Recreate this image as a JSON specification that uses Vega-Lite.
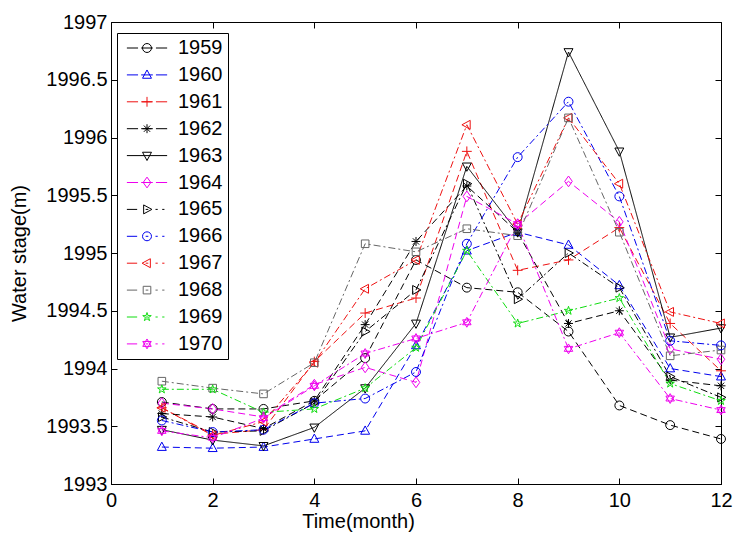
{
"$schema": "https://vega.github.io/schema/vega-lite/v6.json",
"width": 610, "height": 462,
"autosize": "none",
"padding": {"left": 111, "top": 22, "right": 14, "bottom": 54},
"background": "white",
"config": {
  "view": {"stroke": "black", "strokeWidth": 1},
  "font": "Liberation Sans",
  "axis": {"grid": false, "domainColor": "black", "tickColor": "black", "labelColor": "black", "titleColor": "black", "labelFont": "Liberation Sans", "titleFont": "Liberation Sans", "labelFontSize": 20, "titleFontSize": 20, "titleFontWeight": "normal", "tickSize": -6, "labelFlush": false, "labelOverlap": false, "labelBound": false},
  "legend": {"orient": "none", "legendX": 6, "legendY": 11, "direction": "vertical", "padding": 5, "strokeColor": "black", "fillColor": "white", "labelFontSize": 20, "labelFont": "Liberation Sans", "labelColor": "black", "symbolSize": 80, "symbolStrokeWidth": 1, "symbolOpacity": 1, "symbolDash": [], "symbolOffset": 15, "labelOffset": 21, "rowPadding": 6.9, "cornerRadius": 0}
},
"data": {"values": [
{"year":"1959","month":1,"stage":1993.71},{"year":"1959","month":2,"stage":1993.65},{"year":"1959","month":3,"stage":1993.65},{"year":"1959","month":4,"stage":1993.72},{"year":"1959","month":5,"stage":1994.09},{"year":"1959","month":6,"stage":1994.94},{"year":"1959","month":7,"stage":1994.70},{"year":"1959","month":8,"stage":1994.66},{"year":"1959","month":9,"stage":1994.32},{"year":"1959","month":10,"stage":1993.68},{"year":"1959","month":11,"stage":1993.51},{"year":"1959","month":12,"stage":1993.39},
{"year":"1960","month":1,"stage":1993.32},{"year":"1960","month":2,"stage":1993.31},{"year":"1960","month":3,"stage":1993.32},{"year":"1960","month":4,"stage":1993.39},{"year":"1960","month":5,"stage":1993.46},{"year":"1960","month":6,"stage":1994.20},{"year":"1960","month":7,"stage":1995.02},{"year":"1960","month":8,"stage":1995.18},{"year":"1960","month":9,"stage":1995.07},{"year":"1960","month":10,"stage":1994.72},{"year":"1960","month":11,"stage":1994.00},{"year":"1960","month":12,"stage":1993.93},
{"year":"1961","month":1,"stage":1993.66},{"year":"1961","month":2,"stage":1993.43},{"year":"1961","month":3,"stage":1993.47},{"year":"1961","month":4,"stage":1994.06},{"year":"1961","month":5,"stage":1994.48},{"year":"1961","month":6,"stage":1994.61},{"year":"1961","month":7,"stage":1995.88},{"year":"1961","month":8,"stage":1994.85},{"year":"1961","month":9,"stage":1994.94},{"year":"1961","month":10,"stage":1995.22},{"year":"1961","month":11,"stage":1994.39},{"year":"1961","month":12,"stage":1993.98},
{"year":"1962","month":1,"stage":1993.61},{"year":"1962","month":2,"stage":1993.58},{"year":"1962","month":3,"stage":1993.48},{"year":"1962","month":4,"stage":1993.72},{"year":"1962","month":5,"stage":1994.38},{"year":"1962","month":6,"stage":1995.10},{"year":"1962","month":7,"stage":1995.58},{"year":"1962","month":8,"stage":1995.18},{"year":"1962","month":9,"stage":1994.39},{"year":"1962","month":10,"stage":1994.50},{"year":"1962","month":11,"stage":1993.90},{"year":"1962","month":12,"stage":1993.85},
{"year":"1963","month":1,"stage":1993.47},{"year":"1963","month":2,"stage":1993.38},{"year":"1963","month":3,"stage":1993.33},{"year":"1963","month":4,"stage":1993.49},{"year":"1963","month":5,"stage":1993.83},{"year":"1963","month":6,"stage":1994.39},{"year":"1963","month":7,"stage":1995.75},{"year":"1963","month":8,"stage":1995.18},{"year":"1963","month":9,"stage":1996.74},{"year":"1963","month":10,"stage":1995.88},{"year":"1963","month":11,"stage":1994.27},{"year":"1963","month":12,"stage":1994.35},
{"year":"1964","month":1,"stage":1993.70},{"year":"1964","month":2,"stage":1993.65},{"year":"1964","month":3,"stage":1993.58},{"year":"1964","month":4,"stage":1993.86},{"year":"1964","month":5,"stage":1994.01},{"year":"1964","month":6,"stage":1993.88},{"year":"1964","month":7,"stage":1995.49},{"year":"1964","month":8,"stage":1995.25},{"year":"1964","month":9,"stage":1995.62},{"year":"1964","month":10,"stage":1995.27},{"year":"1964","month":11,"stage":1994.17},{"year":"1964","month":12,"stage":1994.08},
{"year":"1965","month":1,"stage":1993.58},{"year":"1965","month":2,"stage":1993.45},{"year":"1965","month":3,"stage":1993.46},{"year":"1965","month":4,"stage":1993.70},{"year":"1965","month":5,"stage":1994.32},{"year":"1965","month":6,"stage":1994.68},{"year":"1965","month":7,"stage":1995.60},{"year":"1965","month":8,"stage":1994.60},{"year":"1965","month":9,"stage":1995.00},{"year":"1965","month":10,"stage":1994.70},{"year":"1965","month":11,"stage":1993.93},{"year":"1965","month":12,"stage":1993.75},
{"year":"1966","month":1,"stage":1993.55},{"year":"1966","month":2,"stage":1993.45},{"year":"1966","month":3,"stage":1993.47},{"year":"1966","month":4,"stage":1993.70},{"year":"1966","month":5,"stage":1993.74},{"year":"1966","month":6,"stage":1993.97},{"year":"1966","month":7,"stage":1995.08},{"year":"1966","month":8,"stage":1995.83},{"year":"1966","month":9,"stage":1996.31},{"year":"1966","month":10,"stage":1995.49},{"year":"1966","month":11,"stage":1994.24},{"year":"1966","month":12,"stage":1994.20},
{"year":"1967","month":1,"stage":1993.66},{"year":"1967","month":2,"stage":1993.42},{"year":"1967","month":3,"stage":1993.54},{"year":"1967","month":4,"stage":1994.05},{"year":"1967","month":5,"stage":1994.69},{"year":"1967","month":6,"stage":1994.94},{"year":"1967","month":7,"stage":1996.11},{"year":"1967","month":8,"stage":1995.25},{"year":"1967","month":9,"stage":1996.17},{"year":"1967","month":10,"stage":1995.60},{"year":"1967","month":11,"stage":1994.49},{"year":"1967","month":12,"stage":1994.39},
{"year":"1968","month":1,"stage":1993.89},{"year":"1968","month":2,"stage":1993.83},{"year":"1968","month":3,"stage":1993.78},{"year":"1968","month":4,"stage":1994.05},{"year":"1968","month":5,"stage":1995.08},{"year":"1968","month":6,"stage":1995.01},{"year":"1968","month":7,"stage":1995.21},{"year":"1968","month":8,"stage":1995.15},{"year":"1968","month":9,"stage":1996.17},{"year":"1968","month":10,"stage":1995.18},{"year":"1968","month":11,"stage":1994.11},{"year":"1968","month":12,"stage":1994.16},
{"year":"1969","month":1,"stage":1993.82},{"year":"1969","month":2,"stage":1993.82},{"year":"1969","month":3,"stage":1993.62},{"year":"1969","month":4,"stage":1993.65},{"year":"1969","month":5,"stage":1993.83},{"year":"1969","month":6,"stage":1994.18},{"year":"1969","month":7,"stage":1995.02},{"year":"1969","month":8,"stage":1994.39},{"year":"1969","month":9,"stage":1994.50},{"year":"1969","month":10,"stage":1994.61},{"year":"1969","month":11,"stage":1993.87},{"year":"1969","month":12,"stage":1993.72},
{"year":"1970","month":1,"stage":1993.46},{"year":"1970","month":2,"stage":1993.40},{"year":"1970","month":3,"stage":1993.57},{"year":"1970","month":4,"stage":1993.85},{"year":"1970","month":5,"stage":1994.13},{"year":"1970","month":6,"stage":1994.26},{"year":"1970","month":7,"stage":1994.40},{"year":"1970","month":8,"stage":1995.25},{"year":"1970","month":9,"stage":1994.17},{"year":"1970","month":10,"stage":1994.31},{"year":"1970","month":11,"stage":1993.74},{"year":"1970","month":12,"stage":1993.64}
]},
"layer": [
{
  "mark": {"type": "line", "strokeWidth": 1},
  "encoding": {
    "x": {"field": "month", "type": "quantitative", "scale": {"domain": [0, 12], "nice": false}, "axis": {"values": [0,2,4,6,8,10,12], "title": "Time(month)", "labelPadding": 12, "titlePadding": 1, "titleX": 247}},
    "y": {"field": "stage", "type": "quantitative", "scale": {"domain": [1993, 1997], "nice": false, "zero": false}, "axis": {"values": [1993,1993.5,1994,1994.5,1995,1995.5,1996,1996.5,1997], "format": ".1~f", "title": "Water stage(m)", "labelPadding": 10, "titlePadding": 16}},
    "color": {"field": "year", "type": "nominal", "scale": {"domain": ["1959","1960","1961","1962","1963","1964","1965","1966","1967","1968","1969","1970"], "range": ["#000000","#0000ee","#ee1111","#000000","#000000","#ee00ee","#000000","#0000ee","#ee1111","#666666","#11dd11","#ee00ee"]}, "legend": null},
    "strokeDash": {"field": "year", "type": "nominal", "scale": {"domain": ["1959","1960","1961","1962","1963","1964","1965","1966","1967","1968","1969","1970"], "range": [[7,4],[7,4],[7,4],[7,4],[1,0],[7,4],[7,3,2,3],[7,3,2,3],[7,3,2,3],[7,3,2,3],[7,3,2,3],[7,3,2,3]]}, "legend": null}
  }
},
{
  "mark": {"type": "point", "filled": false, "size": 80, "strokeWidth": 1, "opacity": 1},
  "encoding": {
    "x": {"field": "month", "type": "quantitative", "axis": {"orient": "top", "values": [0,2,4,6,8,10,12], "labels": false, "title": null, "domain": false}},
    "y": {"field": "stage", "type": "quantitative", "axis": {"orient": "right", "values": [1993,1993.5,1994,1994.5,1995,1995.5,1996,1996.5,1997], "labels": false, "title": null, "domain": false}},
    "color": {"field": "year", "type": "nominal", "legend": null},
    "shape": {"field": "year", "type": "nominal", "scale": {"domain": ["1959","1960","1961","1962","1963","1964","1965","1966","1967","1968","1969","1970"], "range": [
      "M1,0A1,1,0,1,1,-1,0A1,1,0,1,1,1,0Z",
      "M0,-1.1L1,0.75L-1,0.75Z",
      "M-1.1,0H1.1M0,-1.1V1.1",
      "M-1,0H1M0,-1V1M-0.7,-0.7L0.7,0.7M-0.7,0.7L0.7,-0.7",
      "M0,1.1L1,-0.75L-1,-0.75Z",
      "M0,-1.2L0.85,0L0,1.2L-0.85,0Z",
      "M1.1,0L-0.75,-1L-0.75,1Z",
      "M1,0A1,1,0,1,1,-1,0A1,1,0,1,1,1,0Z",
      "M-1.1,0L0.75,-1L0.75,1Z",
      "M-0.85,-0.85H0.85V0.85H-0.85Z",
      "M0,-1L0.225,-0.309L0.951,-0.309L0.363,0.118L0.588,0.809L0,0.382L-0.588,0.809L-0.363,0.118L-0.951,-0.309L-0.225,-0.309Z",
      "M0,-1.1L0.95,0.55L-0.95,0.55ZM0,1.1L0.95,-0.55L-0.95,-0.55Z"
    ]}, "legend": null}
  }
},
{
  "mark": {"type": "point", "filled": false, "size": 80, "strokeWidth": 1, "opacity": 0},
  "encoding": {
    "x": {"field": "month", "type": "quantitative", "axis": null},
    "y": {"field": "stage", "type": "quantitative", "axis": null},
    "stroke": {"field": "year", "type": "nominal", "scale": {"domain": ["1959","1960","1961","1962","1963","1964","1965","1966","1967","1968","1969","1970"], "range": ["#000000","#0000ee","#ee1111","#000000","#000000","#ee00ee","#000000","#0000ee","#ee1111","#666666","#11dd11","#ee00ee"]}, "legend": {"title": null}},
    "shape": {"field": "year", "type": "nominal", "scale": {"domain": ["1959","1960","1961","1962","1963","1964","1965","1966","1967","1968","1969","1970"], "range": [
      "M-4.5,0H-2M-1.3,0H1.3M2,0H4.5M1,0A1,1,0,1,1,-1,0A1,1,0,1,1,1,0Z",
      "M-4.5,0H-2M-1.3,0H1.3M2,0H4.5M0,-1.1L1,0.75L-1,0.75Z",
      "M-4.5,0H-2M-1.3,0H1.3M2,0H4.5M-1.1,0H1.1M0,-1.1V1.1",
      "M-4.5,0H-2M-1.3,0H1.3M2,0H4.5M-1,0H1M0,-1V1M-0.7,-0.7L0.7,0.7M-0.7,0.7L0.7,-0.7",
      "M-4.5,0H4.5M0,1.1L1,-0.75L-1,-0.75Z",
      "M-4.5,0H-2M-1.3,0H1.3M2,0H4.5M0,-1.2L0.85,0L0,1.2L-0.85,0Z",
      "M-4.5,0H-2.2M-0.3,0H0.3M1.9,0H2.4M3.4,0H3.9M1.1,0L-0.75,-1L-0.75,1Z",
      "M-4.5,0H-2.2M-0.3,0H0.3M1.9,0H2.4M3.4,0H3.9M1,0A1,1,0,1,1,-1,0A1,1,0,1,1,1,0Z",
      "M-4.5,0H-2.2M-0.3,0H0.3M1.9,0H2.4M3.4,0H3.9M-1.1,0L0.75,-1L0.75,1Z",
      "M-4.5,0H-2.2M-0.3,0H0.3M1.9,0H2.4M3.4,0H3.9M-0.85,-0.85H0.85V0.85H-0.85Z",
      "M-4.5,0H-2.2M-0.3,0H0.3M1.9,0H2.4M3.4,0H3.9M0,-1L0.225,-0.309L0.951,-0.309L0.363,0.118L0.588,0.809L0,0.382L-0.588,0.809L-0.363,0.118L-0.951,-0.309L-0.225,-0.309Z",
      "M-4.5,0H-2.2M-0.3,0H0.3M1.9,0H2.4M3.4,0H3.9M0,-1.1L0.95,0.55L-0.95,0.55ZM0,1.1L0.95,-0.55L-0.95,-0.55Z"
    ]}, "legend": {"title": null}}
  }
}
],
"resolve": {"axis": {"x": "independent", "y": "independent"}, "scale": {"shape": "independent", "stroke": "independent"}, "legend": {"shape": "independent", "stroke": "independent"}}
}
